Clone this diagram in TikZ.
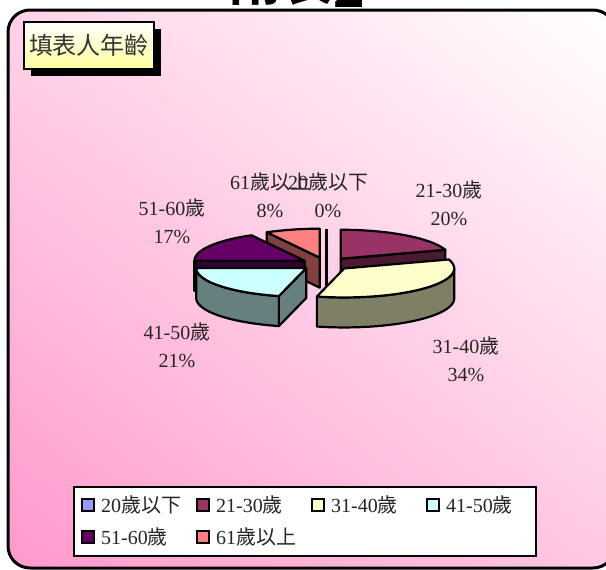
\documentclass[tikz,border=0pt]{standalone}
\usepackage{fontspec}
\usepackage{xcolor}
\usetikzlibrary{shadings,shadows}
\setmainfont{Liberation Serif}
\newfontfamily\cjk{Noto Sans CJK TC}
\newcommand{\zh}[1]{{\cjk #1}}

\definecolor{bgdeep}{HTML}{FF99CC}
\definecolor{bgmidA}{HTML}{FFD2E9}
\definecolor{bgmidB}{HTML}{FFC8E4}
\definecolor{boxyellow}{HTML}{FFFF99}
\definecolor{cA}{HTML}{9999FF}
\definecolor{cB}{HTML}{993366}
\definecolor{cBs}{HTML}{4C1933}
\definecolor{cC}{HTML}{FFFFCC}
\definecolor{cCs}{HTML}{7F7F66}
\definecolor{cD}{HTML}{CCFFFF}
\definecolor{cDs}{HTML}{668080}
\definecolor{cE}{HTML}{660066}
\definecolor{cEs}{HTML}{330033}
\definecolor{cF}{HTML}{FF8080}
\definecolor{cFs}{HTML}{804040}

\def\pcx{326}\def\pcy{264}\def\prx{110}\def\pry{29}\def\pdep{30}
\newcommand{\slicectr}[2]{%
	\pgfmathsetmacro{\smid}{(#1+#2)/2}%
	\pgfmathsetmacro{\ssx}{\pcx+25*cos(\smid)}%
	\pgfmathsetmacro{\ssy}{\pcy+6.5*sin(\smid)}%
}
\newcommand{\slicetop}[3]{%
	\slicectr{#1}{#2}
	\filldraw[pieline, fill=#3] (\ssx,\ssy) -- plot[domain=#1:#2, samples=40] ({\ssx+\prx*cos(\x)}, {\ssy+\pry*sin(\x)}) -- cycle;
}
\newcommand{\sliceface}[4]{%
	\slicectr{#1}{#2}
	\filldraw[pieline, fill=#4] (\ssx,\ssy) -- ++({\prx*cos(#3)}, {\pry*sin(#3)}) -- ++(0,\pdep) -- (\ssx,{\ssy+\pdep}) -- cycle;
}
\newcommand{\slicerim}[5]{%
	\slicectr{#1}{#2}
	\filldraw[pieline, fill=#5] plot[domain=#3:#4, samples=40] ({\ssx+\prx*cos(\x)}, {\ssy+\pry*sin(\x)}) -- plot[domain=#4:#3, samples=40] ({\ssx+\prx*cos(\x)}, {\ssy+\pry*sin(\x)+\pdep}) -- cycle;
}

\tikzset{
	pieline/.style={draw=black, line width=2.2pt, line join=round},
	lbl/.style={align=center, inner sep=0pt, font=\fontsize{20}{28}\selectfont, text=black!85},
	keybox/.style={draw, line width=1.5pt, minimum size=12pt, inner sep=0pt},
	keytext/.style={anchor=west, inner sep=0pt, font=\fontsize{20}{24}\selectfont, text=black!85},
	titlebox/.style={draw, line width=1.5pt, top color=white, bottom color=boxyellow, minimum width=130pt, minimum height=47pt, inner sep=2pt, font=\fontsize{24}{24}\selectfont, text=black!80, general shadow={fill=black, shadow xshift=7pt, shadow yshift=-7pt}},
}

\begin{document}
\begin{tikzpicture}[x=1pt, y=-1pt]
			\useasboundingbox (0,0) rectangle (606,570);
			\node[anchor=base west, inner sep=0pt, font=\fontsize{52}{52}\selectfont] (head) at (229,1) {\cjk\bfseries 附表\raisebox{-6pt}{2}};
			\shade[lower left=bgdeep, upper right=white, upper left=bgmidA, lower right=bgmidB, rounded corners=22pt] (8,10) rectangle (615,568);
			\draw[line width=3pt, rounded corners=22pt] (8,10) rectangle (615,568);
			\node[titlebox] (ttl) at (89,45.5) {\zh{填表人年齡}};
			% slices, back to front
			\sliceface{241.2}{270}{241.2}{cFs}
			\slicetop{241.2}{270}{cF}
			\draw[line width=3pt] (\pcx,{\pcy-6.5-\pry}) -- (\pcx,{\pcy-6.5+\pdep});
			\sliceface{-90}{-18}{-18}{cBs}
			\slicetop{-90}{-18}{cB}
			\sliceface{180}{241.2}{180}{cEs}
			\slicetop{180}{241.2}{cE}
			\sliceface{104.4}{180}{104.4}{cDs}
			\slicerim{104.4}{180}{104.4}{180}{cDs}
			\slicetop{104.4}{180}{cD}
			\slicerim{-18}{104.4}{0}{104.4}{cCs}
			\slicetop{-18}{104.4}{cC}
			\node[lbl] (lab61) at (270,195.5) {61\zh{歲以上}\\8\%};
			\node[lbl] (lab20) at (328,195.5) {20\zh{歲以下}\\0\%};
			\node[lbl] (lab21) at (449,203.5) {21-30\zh{歲}\\20\%};
			\node[lbl] (lab51) at (172,221.5) {51-60\zh{歲}\\17\%};
			\node[lbl] (lab41) at (177,345) {41-50\zh{歲}\\21\%};
			\node[lbl] (lab31) at (466,359.5) {31-40\zh{歲}\\34\%};
			\node[draw, line width=2.5pt, fill=white, minimum width=462pt, minimum height=69pt, inner sep=0pt] (key) at (305,521.5) {};
			\foreach \i/\c/\t/\x/\y in {1/cA/{20\zh{歲以下}}/88/505, 2/cB/{21-30\zh{歲}}/203/505, 3/cC/{31-40\zh{歲}}/318/505, 4/cD/{41-50\zh{歲}}/433/505, 5/cE/{51-60\zh{歲}}/88/537, 6/cF/{61\zh{歲以上}}/203/537} {
				\node[keybox, fill=\c] (keyb\i) at (\x,\y) {};
				\node[keytext] (keyt\i) at (\x+13,\y) {\t};
			}
		\end{tikzpicture}
\end{document}
